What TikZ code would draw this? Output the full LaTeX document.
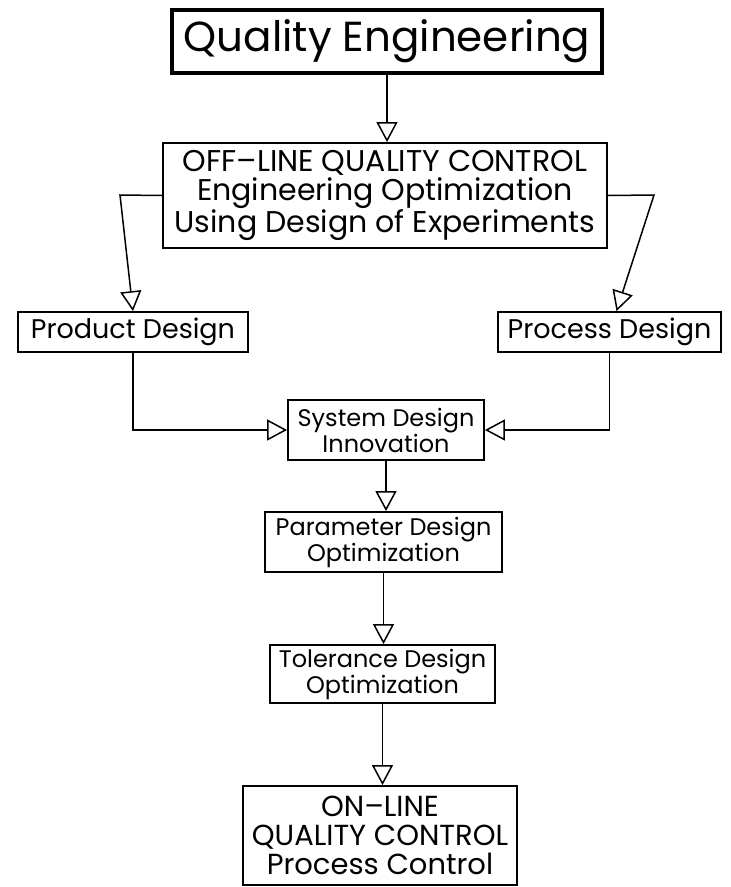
\documentclass[tikz,border=0pt]{standalone}
\usepackage{fontspec}
\setmainfont{Poppins}
\usetikzlibrary{arrows.meta}
\begin{document}
\begin{tikzpicture}[x=1pt,y=-1pt,
  box/.style={draw, line width=1.8pt, inner sep=0pt, align=center},
  big/.style={font={\fontsize{30}{29}\selectfont}},
  mid/.style={font={\fontsize{27}{30}\selectfont}},
  small/.style={font={\fontsize{24}{26}\selectfont}},
  conn/.style={line width=1.5pt, -{Triangle[open,length=20pt,width=21pt,line width=1.5pt]}}]
\useasboundingbox (0,0) rectangle (731,887);
\node[box, line width=4pt, minimum width=430pt, minimum height=63pt,
      font={\fontsize{42}{44}\selectfont}] (qe) at (387,41.5) {Quality Engineering};
\node[box, big, minimum width=444pt, minimum height=105pt] (off) at (385,195.5)
  {OFF–LINE QUALITY CONTROL\\Engineering Optimization\\Using Design of Experiments};
\node[box, mid, minimum width=230pt, minimum height=40pt] (pd) at (133,332) {Product Design};
\node[box, mid, minimum width=223pt, minimum height=40pt] (prd) at (609.5,332) {Process Design};
\node[box, small, minimum width=196pt, minimum height=60pt] (sys) at (386,430)
  {System Design\\Innovation};
\node[box, small, minimum width=237pt, minimum height=60pt] (par) at (383.5,542)
  {Parameter Design\\Optimization};
\node[box, small, minimum width=225pt, minimum height=58pt] (tol) at (382.5,674)
  {Tolerance Design\\Optimization};
\node[box, big, font={\fontsize{29}{29}\selectfont}, minimum width=274pt, minimum height=99pt] (on) at (380,835.5)
  {ON–LINE\\QUALITY CONTROL\\Process Control};
\coordinate (lb) at (120,195);
\coordinate (rb) at (654,195);
\draw[conn] (qe.south) -- (qe.south |- off.north);
\draw[conn] (off.west) -- (lb) -- (pd.north);
\draw[conn] (off.east) -- (rb) -- ([xshift=7pt]prd.north);
\draw[conn] (pd.south) |- (sys.west);
\draw[conn] (prd.south) |- (sys.east);
\draw[conn] (sys.south) -- (sys.south |- par.north);
\draw[conn] (par.south) -- (par.south |- tol.north);
\draw[conn] (tol.south) -- (tol.south |- on.north);
\end{tikzpicture}
\end{document}
